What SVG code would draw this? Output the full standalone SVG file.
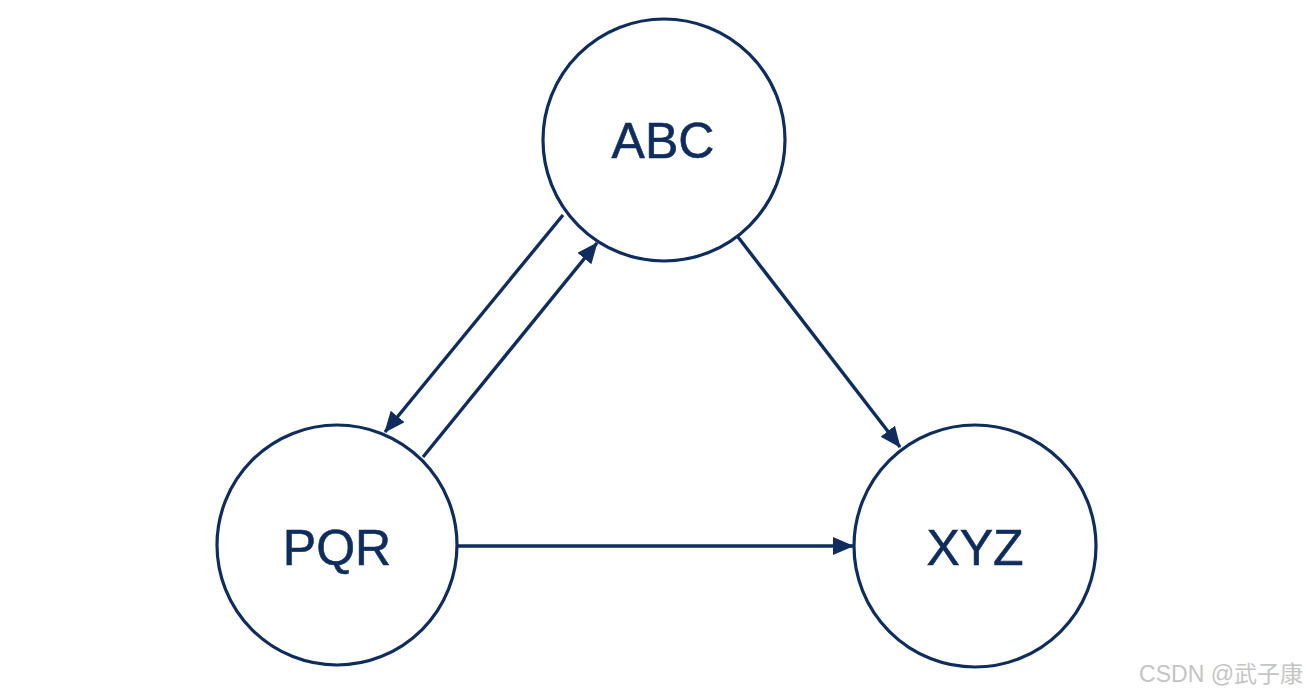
<svg xmlns="http://www.w3.org/2000/svg" width="1306" height="698" viewBox="0 0 1306 698">
<style>
.node circle{fill:#fff;stroke:#0f2d5c;stroke-width:3.2}
.node text{font-family:"Liberation Sans",Arial,sans-serif;font-size:50px;fill:#0f2d5c;text-anchor:middle;stroke:#0f2d5c;stroke-width:0.6}
.edges line{stroke:#0f2d5c;stroke-width:3.4}
.wm{font-family:"Liberation Sans","Noto Sans CJK SC",sans-serif;font-size:23px;fill:#c4c4c4;text-anchor:end}
</style>
<defs>
<marker id="arr" markerUnits="userSpaceOnUse" markerWidth="22" markerHeight="20" refX="20" refY="9" orient="auto">
<path d="M0,0 L21,9 L0,18 z" fill="#0f2d5c"/>
</marker>
</defs>
<rect width="1306" height="698" fill="#fff"/>
<g class="edges">
<line x1="563" y1="215" x2="385" y2="432" marker-end="url(#arr)"/>
<line x1="423" y1="457" x2="597" y2="243" marker-end="url(#arr)"/>
<line x1="738" y1="237" x2="900" y2="447" marker-end="url(#arr)"/>
<line x1="458" y1="546" x2="853" y2="546" marker-end="url(#arr)"/>
</g>
<g id="ABC" class="node"><circle cx="664" cy="140" r="121"/><text x="663" y="158">ABC</text></g>
<g id="PQR" class="node"><circle cx="337" cy="545" r="120"/><text x="337" y="565">PQR</text></g>
<g id="XYZ" class="node"><circle cx="975" cy="546" r="121"/><text x="975" y="565">XYZ</text></g>
<text class="wm" x="1303" y="682">CSDN @武子康</text>
</svg>
